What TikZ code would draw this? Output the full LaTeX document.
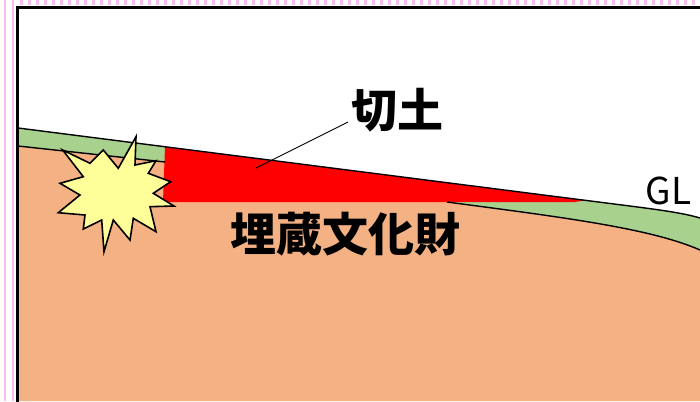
\documentclass[tikz,border=0pt]{standalone}
\usepackage{fontspec}
\newfontfamily\jp{Noto Sans CJK JP}
\definecolor{soil}{HTML}{F4B183}
\definecolor{turf}{HTML}{A9D18E}
\definecolor{cutred}{HTML}{FF0000}
\definecolor{burst}{HTML}{FFFF99}
\definecolor{pinkline}{RGB}{244,190,238}
\tikzset{
  edge/.style={draw=black,line width=1.4pt},
  leader/.style={draw=black,line width=0.9pt},
  bigjp/.style={font=\jp\bfseries\fontsize{46}{46}\selectfont,inner sep=0pt},
  gltext/.style={font=\jp\fontsize{37}{37}\selectfont,inner sep=0pt},
  burstshape/.style={fill=burst,draw=black,line width=1.6pt,line join=miter}
}
\begin{document}
\begin{tikzpicture}[x=1pt,y=-1pt]
\useasboundingbox (0,0) rectangle (700,401);
\fill[white] (0,0) rectangle (700,401);
% pink slide border
\draw[pinkline,line width=2pt] (5,0) -- (5,401) (13,0) -- (13,401);
\draw[pinkline,line width=5pt,dash pattern=on 2.5pt off 5.5pt] (20,2.5) -- (700,2.5);
\begin{scope}
\clip (18,9) rectangle (700,401);
% soil
\fill[soil] (18,128) -- (600,202.2) .. controls (650,208.6) and (680,212) .. (700,218) -- (700,401) -- (18,401) -- cycle;
% turf band
\fill[turf] (18,128) -- (600,202.2) .. controls (650,208.6) and (680,212) .. (700,218)
  -- (700,250) .. controls (650,228) and (560,217) .. (447,202) -- (165,162) -- (18,146) -- cycle;
% cut soil
\fill[cutred] (165,146.7) -- (585,200.3) -- (575,202) -- (163,202) -- cycle;
% lines
\draw[edge] (18,128) -- (600,202.2) .. controls (650,208.6) and (680,212) .. (700,218);
\draw[edge] (18,146) -- (165,162);
\draw[edge] (447,202) .. controls (560,217) and (650,228) .. (700,250);
% burst
\path[burstshape] (136,136.7) -- (135,165) -- (156,160.7) -- (148.3,173.3) -- (170.7,181.7)
  -- (153.3,193.3) -- (174,206) -- (150,206.7) -- (156,231.7) -- (133.3,218.3)
  -- (130,240) -- (113.3,220) -- (104,251.7) -- (101.7,220) -- (83.3,229)
  -- (85,215) -- (58.3,212.7) -- (80,195) -- (60,183.3) -- (83.3,176.7)
  -- (62.7,150) -- (90,163.3) -- (103.3,150) -- (118.3,168.3) -- cycle;
\end{scope}
% frame
\draw[black,line width=3pt] (17.5,420) -- (17.5,7.5) -- (720,7.5);
% labels
\node[bigjp] (kiri) at (397,110) {切土};
\node[bigjp] (maizo) at (345.5,234) {埋蔵文化財};
\node[gltext] (gl) at (668.5,191) {GL};
\coordinate (leadfoot) at (256,168);
\coordinate (leadtop) at (348,122);
\draw[leader] (leadfoot) -- (leadtop);
\end{tikzpicture}
\end{document}
